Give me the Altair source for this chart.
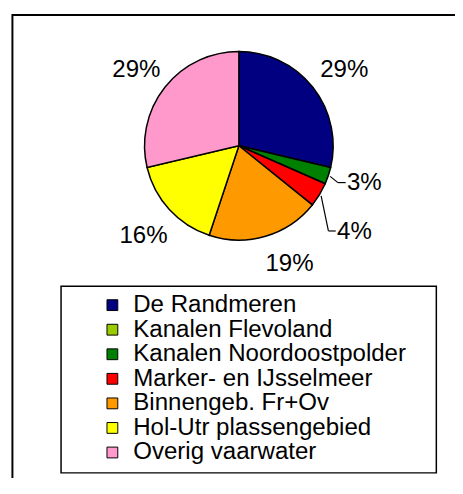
import altair as alt
import pandas as pd

# ---- data ----
categories = [
    "De Randmeren",
    "Kanalen Flevoland",
    "Kanalen Noordoostpolder",
    "Marker- en IJsselmeer",
    "Binnengeb. Fr+Ov",
    "Hol-Utr plassengebied",
    "Overig vaarwater",
]
shares = [28.7, 0.0, 2.9, 4.2, 19.3, 16.2, 28.7]
colors = ["#000080", "#99CC00", "#008000", "#FF0000", "#FF9900", "#FFFF00", "#FF99CC"]

# ---- layout / style ----
CX, CY, R = 235, 136, 96
R_LABEL, R_SMALL = 133, 140
FONT = "Liberation Sans"
# label nudges (dx, dy) by slice index, mimicking the spreadsheet's label placement
NUDGE = {0: (3, 6), 2: (-5, -6), 3: (-2, 15), 4: (14, -7), 5: (1, 2), 6: (0, 6)}


def nudge_expr(k):
    s = "0"
    for i, v in NUDGE.items():
        s = f"(datum.idx == {i} ? {v[k]} : {s})"
    return s


df = pd.DataFrame({"cat": categories, "share": shares, "idx": list(range(len(categories)))})
one = pd.DataFrame({"a": [0]})

base = alt.Chart(df)

pie = base.mark_arc(outerRadius=R, stroke="black", strokeWidth=1.5).encode(
    theta=alt.Theta("share:Q", stack=True),
    color=alt.Color(
        "cat:N",
        scale=alt.Scale(domain=categories, range=colors),
        legend=alt.Legend(
            title=None,
            orient="none",
            legendX=94,
            legendY=286,
            symbolType="square",
            symbolSize=121,
            symbolStrokeColor="black",
            symbolStrokeWidth=1,
            symbolOpacity=1,
            labelFont=FONT,
            labelFontSize=24.5,
            labelColor="black",
            labelLimit=400,
            labelOffset=9,
            rowPadding=0,
            padding=0,
        ),
    ),
    order=alt.Order("idx:Q"),
    x=alt.value(CX),
    y=alt.value(CY),
)

calc = (
    base.transform_joinaggregate(total="sum(share)")
    .transform_window(cum="sum(share)", sort=[alt.SortField("idx")], frame=[None, 0])
    .transform_calculate(
        mid="(datum.cum - datum.share / 2) / datum.total * 2 * PI",
        rr=f"datum.share < 5 ? {R_SMALL} : {R_LABEL}",
        pct="format(datum.share / datum.total, '.0%')",
    )
    .transform_calculate(
        lx=f"{CX} + datum.rr * sin(datum.mid) + {nudge_expr(0)}",
        ly=f"{CY} - datum.rr * cos(datum.mid) + {nudge_expr(1)}",
        sx=f"{CX} + {R + 2} * sin(datum.mid)",
        sy=f"{CY} - {R + 2} * cos(datum.mid)",
    )
    .transform_calculate(ex="datum.lx - 19", ey="datum.ly - 1")
    .transform_calculate(mx="(datum.sx + datum.ex) / 2")
    .transform_filter("datum.share > 0")
)

labels = calc.mark_text(font=FONT, fontSize=24.5, color="black", align="center", baseline="middle").encode(
    x=alt.X("lx:Q", scale=None, axis=None),
    y=alt.Y("ly:Q", scale=None, axis=None),
    text="pct:N",
)

small = calc.transform_filter("datum.share < 5")
lead1 = small.mark_rule(color="black", strokeWidth=1.2).encode(
    x=alt.X("sx:Q", scale=None, axis=None),
    y=alt.Y("sy:Q", scale=None, axis=None),
    x2="mx:Q",
    y2="ey:Q",
)
lead2 = small.mark_rule(color="black", strokeWidth=1.2).encode(
    x=alt.X("mx:Q", scale=None, axis=None),
    y=alt.Y("ey:Q", scale=None, axis=None),
    x2="ex:Q",
    y2="ey:Q",
)

frame = alt.Chart(one).mark_rect(fill="white", stroke="black", strokeWidth=2).encode(
    x=alt.value(4.5), x2=alt.value(520), y=alt.value(3), y2=alt.value(540)
)
legend_box = alt.Chart(one).mark_rect(fill="white", stroke="black", strokeWidth=1.5).encode(
    x=alt.value(54), x2=alt.value(436), y=alt.value(279), y2=alt.value(469)
)

chart = (
    alt.layer(frame, legend_box, pie, lead1, lead2, labels)
    .properties(width=455, height=470, autosize=alt.AutoSizeParams(type="none"), padding=0)
    .configure_view(stroke=None)
)

chart.save("out.html", embed_options={"renderer": "svg", "actions": False})
